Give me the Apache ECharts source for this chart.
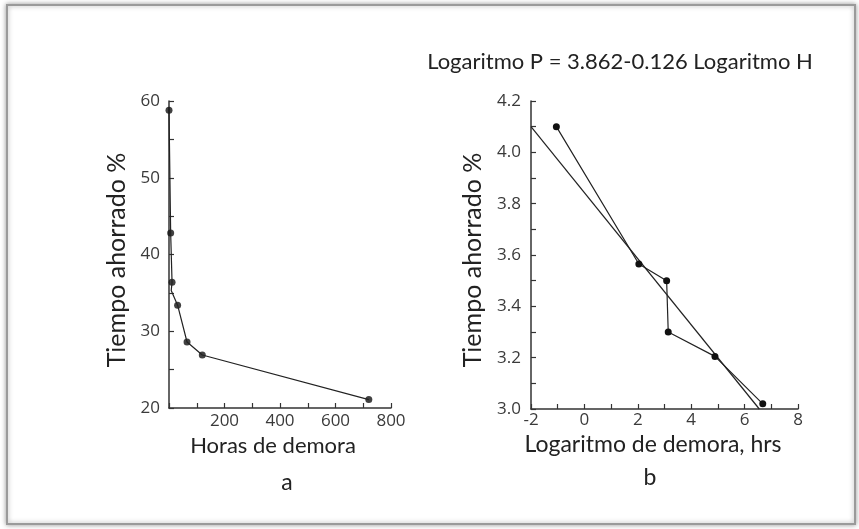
<!DOCTYPE html>
<html>
<head>
<meta charset="utf-8">
<script src="https://cdn.jsdelivr.net/npm/echarts@6/dist/echarts.min.js"></script>
<style>
  html, body { margin: 0; padding: 0; background: #fff; }
  #chart { width: 859px; height: 529px; }
</style>
</head>
<body>
<div id="chart"></div>
<script>
// panel a: horas de demora vs tiempo ahorrado
var lineaA = [[0, 58.8], [6, 42.8], [11, 36.4], [8, 35.3], [31, 33.4], [65, 28.6], [120, 26.9], [720, 21.1]];
var puntosA = [[0, 58.8], [6, 42.8], [11, 36.4], [31, 33.4], [65, 28.6], [120, 26.9], [720, 21.1]];
// panel b: logaritmos
var puntosB = [[-1.05, 4.10], [2.04, 3.565], [3.08, 3.50], [3.14, 3.30], [4.89, 3.205], [6.68, 3.02]];
var rectaB = [[-2, 4.10], [6.55, 3.0]];

var titulo = 'Logaritmo P = 3.862-0.126 Logaritmo H';
var nombreY = 'Tiempo ahorrado %';
var nombreXa = 'Horas de demora';
var nombreXb = 'Logaritmo de demora, hrs';

var chart = echarts.init(document.getElementById('chart'));

var ejeColor = '#333';
var letra = 'Lato';
var tickFont = { color: '#3a3a3a', fontSize: 17, fontFamily: 'Open Sans' };

function eje(extra) {
  var base = {
    type: 'value',
    axisLine: { show: true, onZero: false, lineStyle: { color: ejeColor, width: 1.5 } },
    axisTick: { show: true, inside: true, length: 5, lineStyle: { color: ejeColor, width: 1.2 } },
    splitLine: { show: false }
  };
  return Object.assign(base, extra);
}

chart.setOption({
  animation: false,
  backgroundColor: '#fff',
  grid: [
    { left: 169, top: 101, width: 222, height: 307 },
    { left: 531, top: 101, width: 267, height: 308 }
  ],
  xAxis: [
    eje({
      gridIndex: 0, min: 0, max: 800, interval: 100,
      axisLabel: Object.assign({ margin: 5, formatter: function (v) {
        return (v > 0 && v % 200 === 0) ? String(v) : '';
      } }, tickFont)
    }),
    eje({
      gridIndex: 1, min: -2, max: 8, interval: 1,
      axisLabel: Object.assign({ margin: 3, formatter: function (v) {
        return (Math.round(v) % 2 === 0) ? String(v) : '';
      } }, tickFont)
    })
  ],
  yAxis: [
    eje({
      gridIndex: 0, min: 20, max: 60, interval: 5,
      axisLabel: Object.assign({ margin: 9, formatter: function (v) {
        return (v % 10 === 0) ? String(v) : '';
      } }, tickFont)
    }),
    eje({
      gridIndex: 1, min: 3.0, max: 4.2, interval: 0.1,
      axisLabel: Object.assign({ margin: 10, formatter: function (v) {
        return (Math.round(v * 10) % 2 === 0) ? v.toFixed(1) : '';
      } }, tickFont)
    })
  ],
  series: [
    {
      type: 'line', xAxisIndex: 0, yAxisIndex: 0, data: lineaA,
      showSymbol: false, symbol: 'none',
      lineStyle: { color: '#222', width: 1.2 }
    },
    {
      type: 'scatter', xAxisIndex: 0, yAxisIndex: 0, data: puntosA,
      symbolSize: 7, itemStyle: { color: '#111' }
    },
    {
      type: 'line', xAxisIndex: 1, yAxisIndex: 1, data: puntosB,
      symbol: 'circle', symbolSize: 7,
      lineStyle: { color: '#222', width: 1.2 },
      itemStyle: { color: '#111' }
    },
    {
      type: 'line', xAxisIndex: 1, yAxisIndex: 1, data: rectaB,
      symbol: 'none', clip: false,
      lineStyle: { color: '#222', width: 1.2 }
    }
  ],
  graphic: [
    {
      type: 'rect', z: -10, silent: true,
      shape: { x: 7, y: 5, width: 848, height: 519 },
      style: { fill: '#fff', stroke: '#9a9a9a', lineWidth: 2, shadowBlur: 5, shadowColor: 'rgba(0,0,0,0.35)' }
    },
    {
      type: 'text', x: 620, y: 62,
      style: { text: titulo, align: 'center', verticalAlign: 'middle', fill: '#222', font: '22px ' + letra }
    },
    {
      type: 'text', rotation: Math.PI / 2, x: 117, y: 260,
      style: { text: nombreY, align: 'center', verticalAlign: 'middle', fill: '#222', font: '25px ' + letra }
    },
    {
      type: 'text', rotation: Math.PI / 2, x: 473, y: 260,
      style: { text: nombreY, align: 'center', verticalAlign: 'middle', fill: '#222', font: '25px ' + letra }
    },
    {
      type: 'text', x: 273, y: 446,
      style: { text: nombreXa, align: 'center', verticalAlign: 'middle', fill: '#222', font: '22px ' + letra }
    },
    {
      type: 'text', x: 653, y: 445,
      style: { text: nombreXb, align: 'center', verticalAlign: 'middle', fill: '#222', font: '23px ' + letra }
    },
    {
      type: 'text', x: 287, y: 483,
      style: { text: 'a', align: 'center', verticalAlign: 'middle', fill: '#222', font: '23px ' + letra }
    },
    {
      type: 'text', x: 650, y: 478,
      style: { text: 'b', align: 'center', verticalAlign: 'middle', fill: '#222', font: '23px ' + letra }
    }
  ]
});
</script>
</body>
</html>
